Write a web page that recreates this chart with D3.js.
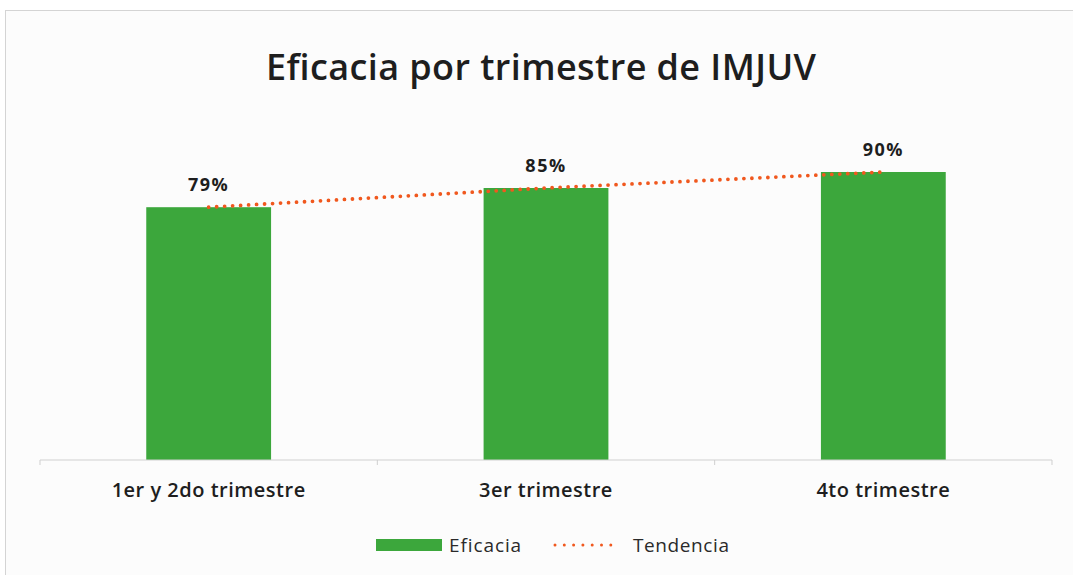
<!DOCTYPE html>
<html>
<head>
<meta charset="utf-8">
<script src="https://cdn.jsdelivr.net/npm/d3@7"></script>
<style>
  body { margin: 0; background: #fff; }
  svg { display: block; }
</style>
</head>
<body>
<svg id="chart"></svg>
<script>
// data
var categories = ["1er y 2do trimestre", "3er trimestre", "4to trimestre"];
var eficacia = [0.79, 0.85, 0.90];
var valueLabels = ["79%", "85%", "90%"];
var seriesNames = ["Eficacia", "Tendencia"];

var W = 1073, H = 575;
var green = "#3ca73c", orange = "#f0581e";

var svg = d3.select("#chart").attr("width", W).attr("height", H);

// outer frame
svg.append("rect")
    .attr("x", 5.5).attr("y", 10.5)
    .attr("width", W + 10).attr("height", H + 10)
    .attr("fill", "#fcfcfc")
    .attr("stroke", "#d4d4d4");

svg.append("text")
    .attr("x", 541).attr("y", 80)
    .attr("text-anchor", "middle")
    .attr("font-family", "Open Sans")
    .attr("font-weight", 600)
    .attr("font-size", 36)
    .attr("textLength", 550)
    .attr("fill", "#1e1e1e")
    .text("Eficacia por trimestre de IMJUV");

var x = d3.scaleBand().domain(categories).range([40, 1052])
    .paddingInner(0.63).paddingOuter(0.315);
var y = d3.scaleLinear().domain([0, 1]).range([460, 140]);

// bars
svg.selectAll("rect.bar").data(eficacia).enter().append("rect")
    .attr("class", "bar")
    .attr("x", function(d, i) { return x(categories[i]); })
    .attr("y", function(d) { return y(d); })
    .attr("width", x.bandwidth())
    .attr("height", function(d) { return y(0) - y(d); })
    .attr("fill", green);

// x axis
var axis = svg.append("g").attr("transform", "translate(0,460)");
axis.append("line").attr("x1", 40).attr("x2", 1052)
    .attr("stroke", "#cfcfcf").attr("stroke-width", 1.2);
var bounds = categories.map(function(c) { return x(c) - x.step() * x.paddingInner() / 2; });
bounds.push(1052);
axis.selectAll("line.tick").data(bounds).enter().append("line")
    .attr("class", "tick")
    .attr("x1", function(d) { return d; }).attr("x2", function(d) { return d; })
    .attr("y1", 0).attr("y2", 5)
    .attr("stroke", "#cfcfcf");

axis.selectAll("text").data(categories).enter().append("text")
    .attr("x", function(d) { return x(d) + x.bandwidth() / 2; })
    .attr("y", 37)
    .attr("text-anchor", "middle")
    .attr("font-family", "Open Sans")
    .attr("font-weight", 600)
    .attr("font-size", 20)
    .attr("letter-spacing", 0.5)
    .attr("fill", "#1e1e1e")
    .text(function(d) { return d; });

// trend line
var line = d3.line()
    .x(function(d, i) { return x(categories[i]) + x.bandwidth() / 2; })
    .y(function(d) { return y(d); });
svg.append("path")
    .datum(eficacia)
    .attr("d", line)
    .attr("fill", "none")
    .attr("stroke", orange)
    .attr("stroke-width", 3.8)
    .attr("stroke-linecap", "round")
    .attr("stroke-dasharray", "0 8");

// value labels
svg.selectAll("text.val").data(eficacia).enter().append("text")
    .attr("class", "val")
    .attr("x", function(d, i) { return x(categories[i]) + x.bandwidth() / 2; })
    .attr("y", function(d) { return y(d) - 16; })
    .attr("text-anchor", "middle")
    .attr("font-family", "Open Sans")
    .attr("font-weight", 700)
    .attr("font-size", 18)
    .attr("letter-spacing", 1.5)
    .attr("fill", "#1e1e1e")
    .text(function(d, i) { return valueLabels[i]; });

// legend
var lg = svg.append("g").attr("transform", "translate(0,545)");
lg.append("rect").attr("x", 376).attr("y", -6).attr("width", 66).attr("height", 12).attr("fill", green);
lg.append("text").attr("x", 449).attr("y", 7)
    .attr("font-family", "Open Sans").attr("font-size", 19).attr("letter-spacing", 0.9)
    .attr("fill", "#2a2a2a")
    .text(seriesNames[0]);
lg.append("line").attr("x1", 555).attr("x2", 620).attr("y1", 0).attr("y2", 0)
    .attr("stroke", orange).attr("stroke-width", 3).attr("stroke-linecap", "round")
    .attr("stroke-dasharray", "0 9.3");
lg.append("text").attr("x", 633).attr("y", 7)
    .attr("font-family", "Open Sans").attr("font-size", 19).attr("letter-spacing", 0.6)
    .attr("fill", "#2a2a2a")
    .text(seriesNames[1]);
</script>
</body>
</html>
